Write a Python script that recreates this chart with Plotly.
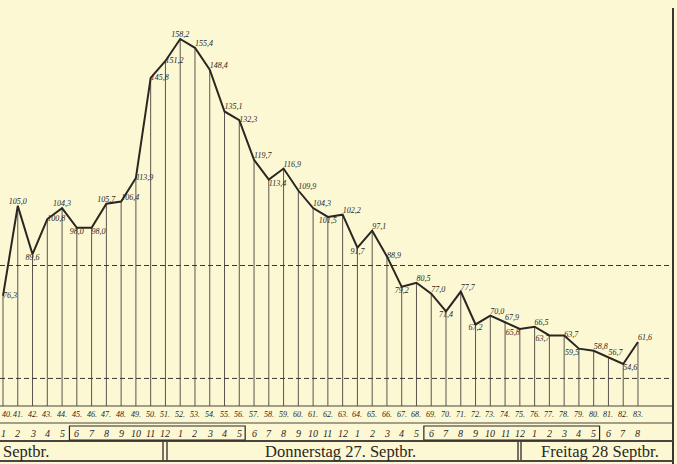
import plotly.graph_objects as go

# ---------------- data ----------------
hours = list(range(40, 84))
values = [76.3, 105.0, 89.6, 100.8, 104.3, 98.0, 98.0, 105.7, 106.4, 113.9,
          145.8, 151.2, 158.2, 155.4, 148.4, 135.1, 132.3, 119.7, 113.4, 116.9,
          109.9, 104.3, 101.5, 102.2, 91.7, 97.1, 88.9, 79.2, 80.5, 77.0,
          71.4, 77.7, 67.2, 70.0, 67.9, 65.8, 66.5, 63.7, 63.7, 59.5,
          58.8, 56.7, 54.6, 61.6]
hour_labels = [f"{h}." for h in hours]
clock_labels = [str((h - 40) % 12 + 1) for h in hours]
night_spans = [(45, 56), (69, 80)]
day_labels = ["Septbr.", "Donnerstag 27. Septbr.", "Freitag 28 Septbr."]
ref_levels = [86.0, 50.0]

label_pos = ["middle right", "top center", "bottom center", "middle right", "top center",
             "bottom center", "bottom right", "top center", "top right", "middle right",
             "middle right", "middle right", "top center", "top right", "top right",
             "top right", "middle right", "top right", "bottom right", "top right",
             "top right", "top right", "bottom center", "top right", "bottom center",
             "top right", "middle right", "bottom center", "top right", "top right",
             "bottom center", "top right", "bottom center", "top right", "top right",
             "bottom left", "top right", "bottom left", "middle right", "bottom left",
             "top right", "top right", "bottom right", "top right"]

# ---------------- geometry ----------------
W, H = 677, 464
PX_PER_H = 14.767
X0_PX = 3.0
Y_REF_V, Y_REF_PX, PX_PER_V = 54.6, 364.0, 3.137

def v_at_px(py):
    return Y_REF_V + (Y_REF_PX - py) / PX_PER_V

def px2paper_x(px):
    return px / W

def py2paper_y(py):
    return 1 - py / H

x_range = [40 - X0_PX / PX_PER_H, 40 + (W - X0_PX) / PX_PER_H]
y_range = [v_at_px(H), v_at_px(0)]
base_v = v_at_px(406)

INK = "#2a2622"
BG = "#fcf8d4"

fig = go.Figure()

# drop lines
dx, dy = [], []
for h, v in zip(hours, values):
    dx += [h, h, None]
    dy += [v, base_v, None]
fig.add_trace(go.Scatter(x=dx, y=dy, mode="lines",
                         line=dict(color="#5a554e", width=1), hoverinfo="skip",
                         showlegend=False))

# main curve
fig.add_trace(go.Scatter(
    x=hours, y=values, mode="lines+text",
    line=dict(color=INK, width=2),
    text=[f"{v:.1f}".replace(".", ",") for v in values],
    textposition=label_pos,
    textfont=dict(family="Liberation Serif", size=8, color=INK, style="italic"),
    showlegend=False, cliponaxis=False, hoverinfo="skip"))

shapes = []
# reference dashed lines
for lv in ref_levels:
    shapes.append(dict(type="line", xref="paper", yref="y", x0=0, x1=px2paper_x(672),
                       y0=lv, y1=lv, line=dict(color="#3a3530", width=1, dash="5px,3px")))

# right border
shapes.append(dict(type="line", xref="paper", yref="paper",
                   x0=px2paper_x(673), x1=px2paper_x(673),
                   y0=py2paper_y(8), y1=0, line=dict(color="#3a3530", width=2)))

# table horizontal rules
for py, w in [(406, 1), (423, 1), (441, 2), (461, 2)]:
    shapes.append(dict(type="line", xref="paper", yref="paper",
                       x0=0, x1=px2paper_x(673), y0=py2paper_y(py), y1=py2paper_y(py),
                       line=dict(color="#4a4540", width=w)))

# night boxes in clock row
for a, b in night_spans:
    shapes.append(dict(type="rect", xref="x", yref="paper",
                       x0=a - 0.5, x1=b + 0.4, y0=py2paper_y(440), y1=py2paper_y(426),
                       line=dict(color=INK, width=1.2)))

# double bars in day row
for px in [163, 167, 518, 521]:
    shapes.append(dict(type="line", xref="paper", yref="paper",
                       x0=px2paper_x(px), x1=px2paper_x(px),
                       y0=py2paper_y(441), y1=py2paper_y(461),
                       line=dict(color="#4a4540", width=1.5)))

annotations = []
for i, (h, lab) in enumerate(zip(hours, hour_labels)):
    if i == 0:
        ann_x, ann_ref, anc = 0, "paper", "left"
    else:
        ann_x, ann_ref, anc = h, "x", "center"
    annotations.append(dict(x=ann_x, y=py2paper_y(414), xref=ann_ref, yref="paper",
                            text=lab, showarrow=False, xanchor=anc, yanchor="middle",
                            font=dict(family="Liberation Serif", size=8, color=INK, style="italic")))
for h, lab in zip(hours, clock_labels):
    annotations.append(dict(x=h, y=py2paper_y(433), xref="x", yref="paper",
                            text=lab, showarrow=False, xanchor="center", yanchor="middle",
                            font=dict(family="Liberation Serif", size=10, color=INK, style="italic")))

day_pos = [(1, "left"), (340, "center"), (600, "center")]
for (px, anc), lab in zip(day_pos, day_labels):
    annotations.append(dict(x=px2paper_x(px), y=py2paper_y(451), xref="paper", yref="paper",
                            text=lab, showarrow=False, xanchor=anc, yanchor="middle",
                            font=dict(family="Liberation Serif", size=16.5, color=INK)))

fig.update_layout(
    width=W, height=H,
    margin=dict(l=0, r=0, t=0, b=0),
    paper_bgcolor=BG, plot_bgcolor=BG,
    xaxis=dict(range=x_range, visible=False, fixedrange=True),
    yaxis=dict(range=y_range, visible=False, fixedrange=True),
    shapes=shapes, annotations=annotations, showlegend=False)

fig.write_html("out.html", config={"displayModeBar": False},
               post_script="document.body.style.margin='0';document.body.style.overflow='hidden';")
